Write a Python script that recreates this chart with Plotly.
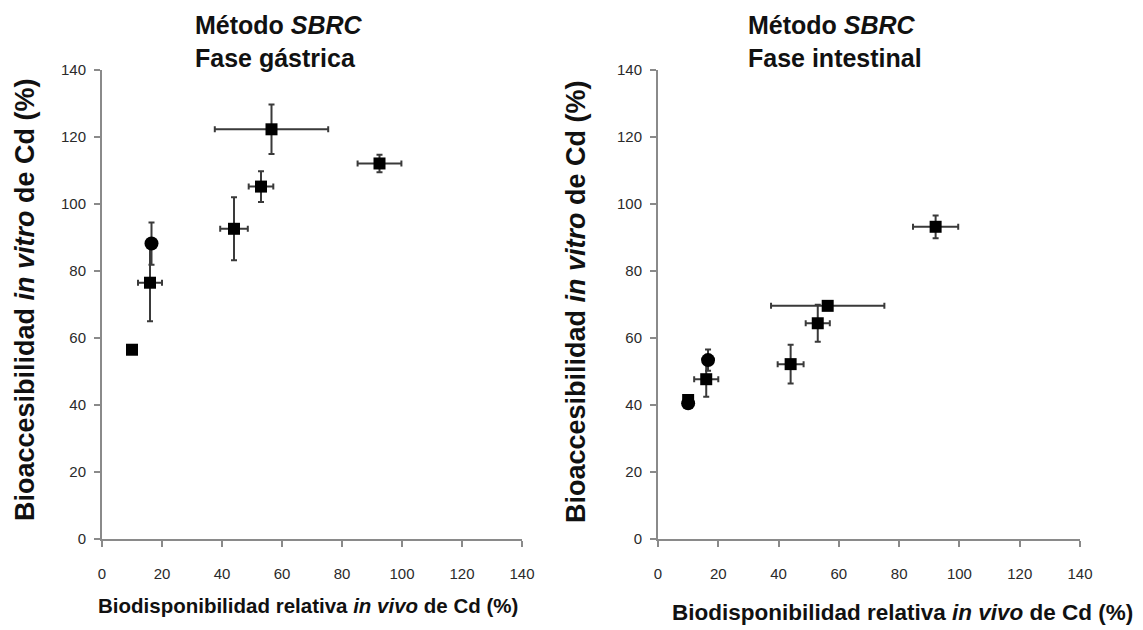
import plotly.graph_objects as go

# Fase gástrica
gas_x = [10, 16, 16.5, 44, 53, 56.5, 92.5]
gas_y = [56.5, 76.5, 88.2, 92.6, 105.2, 122.3, 112.1]
gas_xerr = [0, 4, 0, 4.6, 4.1, 18.9, 7.3]
gas_yerr = [0, 11.5, 6.3, 9.4, 4.6, 7.4, 2.6]
gas_symbol = ["square", "square", "circle", "square", "square", "square", "square"]

# Fase intestinal
int_x = [10, 10, 16, 16.6, 44, 53, 56.3, 92.1]
int_y = [40.5, 41.5, 47.7, 53.4, 52.2, 64.4, 69.6, 93.2]
int_xerr = [0, 0, 4, 0, 4.3, 4, 18.8, 7.5]
int_yerr = [0, 0, 5.2, 3.2, 5.8, 5.5, 0, 3.4]
int_symbol = ["circle", "square", "square", "circle", "square", "square", "square", "square"]

ticks = [0, 20, 40, 60, 80, 100, 120, 140]

# the page adds an 8px body margin, so the figure is a little smaller
OFF = 8
W, H = 1143 - OFF, 630 - OFF
TXT = "#111111"
AXIS = "#8a8a8a"
ERR = "#3a3a3a"
FONT = "Liberation Sans"


def px_x(p):
    return (p - OFF) / W


def px_y(p):
    return 1 - (p - OFF) / H


def add_panel(fig, x, y, xerr, yerr, symbols, xa, ya):
    sizes = [14 if s == "circle" else 12 for s in symbols]
    fig.add_trace(go.Scatter(
        x=x, y=y, mode="markers",
        marker=dict(symbol=symbols, size=sizes, color="black", opacity=1, line=dict(width=0)),
        error_x=dict(type="data", array=xerr, color=ERR, thickness=2, width=3),
        error_y=dict(type="data", array=yerr, color=ERR, thickness=2, width=3),
        xaxis=xa, yaxis=ya, showlegend=False, hoverinfo="x+y",
    ))


fig = go.Figure()
add_panel(fig, gas_x, gas_y, gas_xerr, gas_yerr, gas_symbol, "x", "y")
add_panel(fig, int_x, int_y, int_xerr, int_yerr, int_symbol, "x2", "y2")

axis_common = dict(
    range=[0, 140], tickvals=ticks, showgrid=False, zeroline=False,
    showline=True, linecolor=AXIS, linewidth=2, automargin=False,
    ticks="outside", ticklen=6, tickwidth=2, tickcolor=AXIS,
    tickfont=dict(family=FONT, size=15, color="#2a2a2a"),
)

ydom = [px_y(539), px_y(70)]
fig.update_layout(
    width=W, height=H,
    margin=dict(l=0, r=0, t=0, b=0, pad=0),
    paper_bgcolor="white", plot_bgcolor="white",
    xaxis=dict(domain=[px_x(102), px_x(522)], anchor="y", ticklabelstandoff=14, **axis_common),
    yaxis=dict(domain=ydom, anchor="x", ticklabelstandoff=5, **axis_common),
    xaxis2=dict(domain=[px_x(658), px_x(1080)], anchor="y2", ticklabelstandoff=14, **axis_common),
    yaxis2=dict(domain=ydom, anchor="x2", ticklabelstandoff=5, **axis_common),
)

ytitle = "Bioaccesibilidad <i>in vitro</i> de Cd (%)"
xtitle = "Biodisponibilidad relativa <i>in vivo</i> de Cd (%)"

annotations = [
    # panel titles
    dict(x=px_x(193), y=px_y(9), text="<b>Método <i>SBRC</i></b>", xanchor="left", yanchor="top", size=25),
    dict(x=px_x(193), y=px_y(42), text="<b>Fase gástrica</b>", xanchor="left", yanchor="top", size=25),
    dict(x=px_x(746), y=px_y(9), text="<b>Método <i>SBRC</i></b>", xanchor="left", yanchor="top", size=25),
    dict(x=px_x(746), y=px_y(42), text="<b>Fase intestinal</b>", xanchor="left", yanchor="top", size=25),
    # axis titles
    dict(x=px_x(25), y=px_y(300), text="<b>" + ytitle + "</b>", textangle=-90, xanchor="center", yanchor="middle", size=27),
    dict(x=px_x(576), y=px_y(302), text="<b>" + ytitle + "</b>", textangle=-90, xanchor="center", yanchor="middle", size=27),
    dict(x=px_x(308), y=px_y(605), text="<b>" + xtitle + "</b>", xanchor="center", yanchor="middle", size=20.5),
    dict(x=px_x(902), y=px_y(612), text="<b>" + xtitle + "</b>", xanchor="center", yanchor="middle", size=22.5),
]
for a in annotations:
    size = a.pop("size")
    fig.add_annotation(xref="paper", yref="paper", showarrow=False,
                       font=dict(family=FONT, size=size, color=TXT), **a)

fig.write_html("out.html")
